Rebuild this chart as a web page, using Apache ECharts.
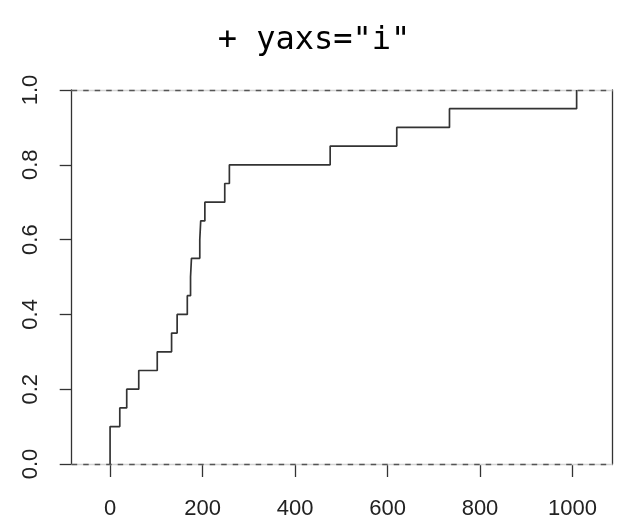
<!DOCTYPE html>
<html>
<head>
<meta charset="utf-8">
<script src="https://cdn.jsdelivr.net/npm/echarts@6/dist/echarts.min.js"></script>
<style>
  html, body { margin: 0; padding: 0; background: #fff; }
  #chart { width: 628px; height: 527px; }
</style>
</head>
<body>
<div id="chart"></div>
<script>
// Observations (sorted) whose empirical CDF is drawn as a step function
const observations = [0, 0, 21, 36, 62, 102, 133, 145, 167, 174, 176, 194, 196, 205, 248, 258, 476, 620, 734, 1009];
const xTicks = [0, 200, 400, 600, 800, 1000];
const yTicks = [0, 0.2, 0.4, 0.6, 0.8, 1.0];
const xRange = [-83, 1087];
const yRange = [0, 1];
const titleText = '+ yaxs="i"';

// Empirical CDF points: one per distinct value, starting from the zero level
function ecdfPoints(obs) {
  const n = obs.length;
  const pts = [[obs[0], 0]];
  for (let i = 0; i < n; i++) {
    if (i === n - 1 || obs[i + 1] !== obs[i]) {
      pts.push([obs[i], (i + 1) / n]);
    }
  }
  return pts;
}

const chart = echarts.init(document.getElementById('chart'), null, { renderer: 'canvas' });
const labelFont = 'Liberation Sans, Arial, sans-serif';

chart.setOption({
  animation: false,
  backgroundColor: '#ffffff',
  title: {
    text: titleText,
    left: 'center',
    top: 20,
    textStyle: { fontFamily: 'DejaVu Sans Mono, monospace', fontSize: 32, fontWeight: 'normal', color: '#000' }
  },
  grid: { left: 71.7, right: 15.3, top: 90, bottom: 63, containLabel: false },
  xAxis: {
    type: 'value',
    min: xRange[0],
    max: xRange[1],
    splitLine: { show: false },
    axisLine: { show: false },
    axisTick: { show: true, length: 13, customValues: xTicks, lineStyle: { color: '#333', width: 1.3 } },
    axisLabel: {
      customValues: xTicks, margin: 34, fontSize: 22, color: '#222', fontFamily: labelFont,
      formatter: v => String(v)
    }
  },
  yAxis: [
    {
      type: 'value',
      min: yRange[0],
      max: yRange[1],
      splitLine: { show: false },
      axisLine: { show: true, onZero: false, lineStyle: { color: '#333', width: 1.3 } },
      axisTick: { show: true, length: 12, customValues: yTicks, lineStyle: { color: '#333', width: 1.3 } },
      axisLabel: {
        customValues: yTicks, rotate: 90, margin: 30, fontSize: 22, color: '#222', fontFamily: labelFont,
        formatter: v => v.toFixed(1)
      }
    },
    {
      type: 'value',
      position: 'right',
      min: yRange[0],
      max: yRange[1],
      splitLine: { show: false },
      axisLine: { show: true, onZero: false, lineStyle: { color: '#333', width: 1.3 } },
      axisTick: { show: false },
      axisLabel: { show: false }
    }
  ],
  series: [
    {
      // light base of the reference lines at 0 and 1
      type: 'line',
      data: [],
      markLine: {
        silent: true,
        symbol: 'none',
        label: { show: false },
        lineStyle: { color: '#d4d4d4', type: 'solid', width: 1.3 },
        data: [{ yAxis: 0 }, { yAxis: 1 }]
      }
    },
    {
      // dashed reference lines at 0 and 1
      type: 'line',
      data: [],
      markLine: {
        silent: true,
        symbol: 'none',
        label: { show: false },
        lineStyle: { color: '#555', type: [5.5, 6], width: 1.3 },
        data: [{ yAxis: 0 }, { yAxis: 1 }]
      }
    },
    {
      type: 'line',
      step: 'end',
      data: ecdfPoints(observations),
      showSymbol: false,
      lineStyle: { color: '#333', width: 1.7 },
      z: 5
    }
  ]
});
</script>
</body>
</html>
